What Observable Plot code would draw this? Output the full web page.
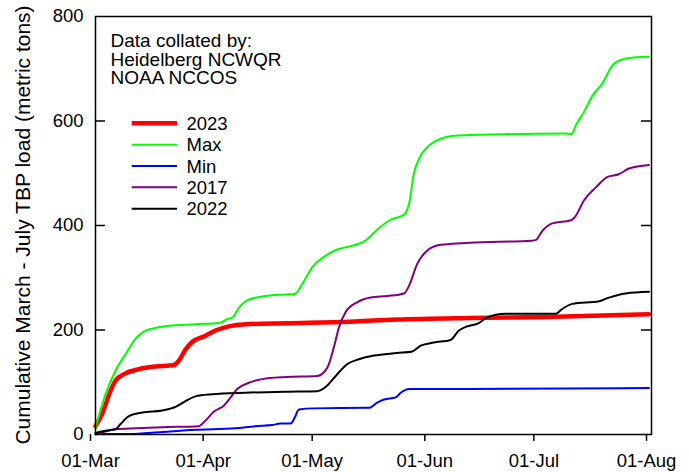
<!DOCTYPE html>
<html>
<head>
<meta charset="utf-8">
<script src="https://cdn.jsdelivr.net/npm/d3@7"></script>
<script src="https://cdn.jsdelivr.net/npm/@observablehq/plot@0.6"></script>
<style>
  html, body { margin: 0; padding: 0; background: white; }
  svg text { font-family: "Liberation Sans", Arial, sans-serif; }
</style>
</head>
<body>
<div id="chart"></div>
<script>
// ---- Data (days after 01-Mar, cumulative metric tons) ----
const seriesNames = ["2023", "Max", "Min", "2017", "2022"];
const seriesColors = ["#ff0000", "#00ff00", "#0000ff", "#800080", "#000000"];
const seriesWidths = [4.5, 2, 2, 2, 2];

const days2023 = [0, 1.8, 4.1, 5.5, 8.3, 11.9, 16.5, 21.6, 22.9, 24.8, 26.6, 30.3, 33, 36.7, 41.3, 52.3, 70, 83, 103, 124, 152.3];
const vals2023 = [16, 39, 83, 103, 117, 125, 130, 133, 141, 163, 177, 189, 199, 207, 211, 213, 216, 220, 223, 225, 230];

const daysMax = [0, 2.75, 5.5, 8.3, 11, 12.9, 16.5, 20.2, 27.5, 34.4, 36.3, 37.8, 39.5, 41.8, 45.9, 52.3, 54.8, 56.9, 59.7, 62.9, 66.5, 71.1, 74.3, 77.5, 81.2, 84.9, 86.3, 87.6, 89.5, 91.8, 95, 98.7, 103, 129.4, 131, 132.2, 134.4, 136.8, 139.5, 142.3, 145, 148.7, 152.3];
const valsMax = [13, 77, 122, 154, 183, 195, 204, 208, 211, 214, 221, 225, 243, 257, 264, 268, 269, 288, 321, 340, 354, 362, 371, 392, 411, 421, 442, 499, 534, 553, 566, 572, 573, 576, 575, 592, 617, 649, 672, 707, 718, 722, 723];

const daysMin = [0, 9.2, 18.4, 27.5, 38.5, 44, 48.6, 50.9, 53.7, 54.8, 56, 60.1, 75.3, 77.5, 79.4, 82.6, 84, 86.3, 103, 152.3];
const valsMin = [1, 1, 5, 9, 12, 16, 18, 21, 21, 32, 48, 50, 51, 61, 67, 71, 80, 87, 87, 89];

const days2017 = [0, 5.5, 11, 18.4, 28.4, 30.3, 32.6, 35.3, 37.2, 39, 42.2, 45.9, 52.3, 61, 63.8, 65.6, 67, 68.8, 72, 75.7, 80.3, 84.9, 86.3, 88.5, 91.3, 95, 103, 120.2, 121.1, 123, 125.7, 130.8, 132.2, 134.4, 137.7, 140.9, 144, 146.8, 152.3];
const vals2017 = [0, 10, 12, 14, 16, 27, 44, 55, 71, 87, 99, 106, 110, 112, 128, 167, 205, 234, 253, 262, 265, 270, 285, 326, 352, 363, 367, 371, 372, 390, 404, 410, 419, 448, 473, 493, 498, 509, 516];

const days2022 = [0, 2.75, 5.5, 6.9, 9.2, 12.9, 18.4, 22, 24.8, 27.5, 32.1, 41.3, 52.3, 61, 63.3, 66.1, 69.3, 72.5, 76.6, 83, 87.2, 89.5, 93.1, 97.7, 100, 101.9, 105.5, 107.4, 112.9, 126.7, 128, 131.2, 138.6, 141.3, 145.9, 152.3];
const vals2022 = [3, 7, 10, 20, 35, 42, 46, 53, 64, 73, 77, 80, 82, 83, 91, 112, 135, 144, 151, 156, 159, 170, 176, 181, 199, 206, 213, 223, 231, 231, 238, 250, 255, 262, 270, 273];

const xTickDates = ["2023-03-01", "2023-04-01", "2023-05-01", "2023-06-01", "2023-07-01", "2023-08-01"];
const yTicks = [0, 200, 400, 600, 800];
const yInnerTicks = [200, 400, 600];

const yLabel = "Cumulative March - July TBP load (metric tons)";
const noteLines = ["Data collated by:", "Heidelberg NCWQR", "NOAA NCCOS"];

// ---- Build table ----
const t0 = Date.UTC(2023, 2, 1);
const DAY = 86400000;
const allDays = [days2023, daysMax, daysMin, days2017, days2022];
const allVals = [vals2023, valsMax, valsMin, vals2017, vals2022];
const rows = [];
seriesNames.forEach((name, i) => {
  allDays[i].forEach((d, j) => rows.push({series: name, date: new Date(t0 + d * DAY), value: allVals[i][j]}));
});

const xDomain = [new Date(xTickDates[0]), new Date(xTickDates[xTickDates.length - 1])];
const monthFmt = d3.utcFormat("%b");

const W = 689, H = 472, ML = 95, MR = 38, MT = 16, MB = 38;
const innerW = W - ML - MR;

const chart = Plot.plot({
  width: W,
  height: H,
  marginLeft: ML,
  marginRight: MR,
  marginTop: MT,
  marginBottom: MB,
  style: {fontFamily: "'Liberation Sans', Arial, sans-serif", fontSize: "18.5px", background: "white", color: "black", overflow: "visible"},
  x: {type: "utc", domain: xDomain},
  y: {domain: [0, 800]},
  marks: [
    Plot.axisY(yTicks, {tickSize: 0, tickPadding: 12, label: null, tickFormat: d => String(d), fontSize: 18.5}),
    Plot.axisX(xTickDates.map(s => new Date(s)), {tickSize: 7, tickPadding: 12, label: null, strokeWidth: 1.5, tickFormat: d => "01-" + monthFmt(d), dx: -5, fontSize: 18.5}),
    Plot.tickY(yInnerTicks, {y: d => d, insetRight: innerW - 10, stroke: "black", strokeWidth: 1.5}),
    Plot.tickY(yInnerTicks, {y: d => d, insetLeft: innerW - 10, stroke: "black", strokeWidth: 1.5}),
    ...seriesNames.map((name, i) => Plot.line(rows.filter(r => r.series === name), {
      x: "date", y: "value", stroke: seriesColors[i], strokeWidth: seriesWidths[i], curve: "monotone-x"
    })),
    Plot.frame({stroke: "black", strokeWidth: 1.5})
  ]
});

const svg = d3.select(chart);
const font = "'Liberation Sans', Arial, sans-serif";

// y-axis title
svg.append("text")
  .attr("transform", `translate(30, ${MT + (H - MT - MB) / 2}) rotate(-90)`)
  .attr("text-anchor", "middle")
  .attr("font-family", font)
  .attr("font-size", 21)
  .attr("fill", "black")
  .text(yLabel);

// annotation
noteLines.forEach((line, i) => {
  svg.append("text")
    .attr("x", 110.5)
    .attr("y", 46.7 + i * 18.8)
    .attr("text-anchor", "start")
    .attr("font-family", font)
    .attr("font-size", 19)
    .attr("fill", "black")
    .text(line);
});

// legend
seriesNames.forEach((name, i) => {
  const y = 123.3 + i * 21.35;
  svg.append("line")
    .attr("x1", 131.7).attr("x2", 177)
    .attr("y1", y).attr("y2", y)
    .attr("stroke", seriesColors[i])
    .attr("stroke-width", seriesWidths[i]);
  svg.append("text")
    .attr("x", 186.5)
    .attr("y", y)
    .attr("dy", "0.36em")
    .attr("text-anchor", "start")
    .attr("font-family", font)
    .attr("font-size", 18.5)
    .attr("fill", "black")
    .text(name);
});

document.getElementById("chart").appendChild(chart);
</script>
</body>
</html>
